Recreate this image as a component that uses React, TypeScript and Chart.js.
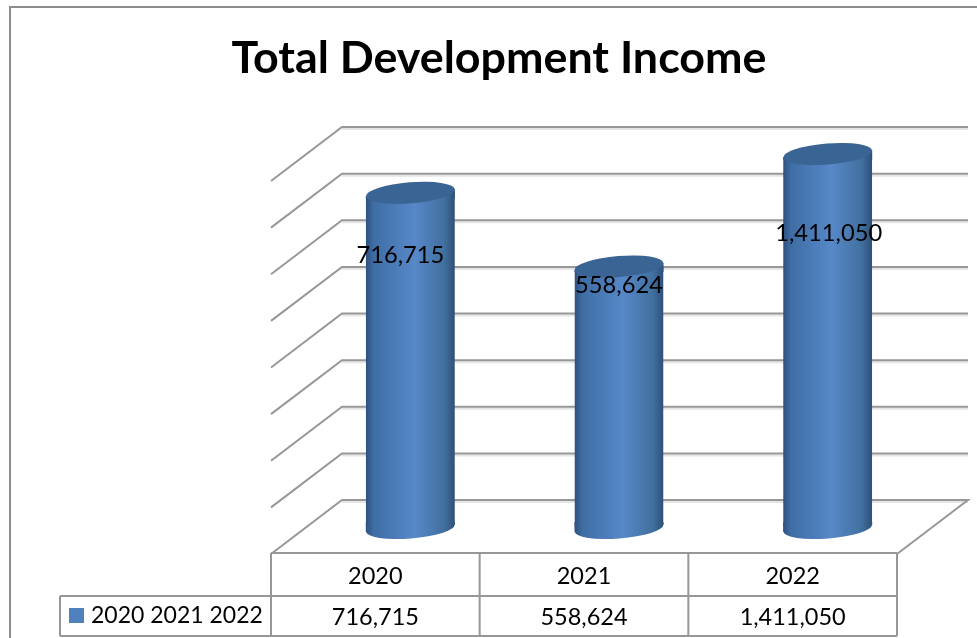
import React, { useEffect, useRef } from "react";
import { Chart, registerables } from "chart.js";

Chart.register(...registerables);

const TITLE = "Total Development Income";
const SERIES_NAME = "2020 2021 2022";
const categories = ["2020", "2021", "2022"];
const incomeValues = [716715, 558624, 1411050];
const AXIS_MIN = 0;
const AXIS_MAX = 800000;
const AXIS_STEP = 100000;

// Manual data-label placement in the reference (px from the drawn bar top / bar centre)
const labelDy = [62, 18, 78];
const labelDx = [-10, 0, 1];

const W = 977;
const H = 638;
const DEPTH_X = 36;
const DEPTH_Y = 27;
const BAR_PCT = 0.4267;
const ELL_RY = 10.5;
const TILT = -0.08;
const GRID = "#979797";
const FONT = "Lato, 'Noto Sans', sans-serif";

const fmt = (v: number) => v.toLocaleString("en-US");

function bodyGradient(ctx: CanvasRenderingContext2D, cx: number, half: number) {
  const g = ctx.createLinearGradient(cx - half, 0, cx + half, 0);
  g.addColorStop(0, "#2d507d");
  g.addColorStop(0.09, "#3f6ea5");
  g.addColorStop(0.55, "#5788c8");
  g.addColorStop(0.88, "#41709f");
  g.addColorStop(1, "#2f4f78");
  return g;
}

function barHalf(chart: any) {
  const x = chart.scales.x;
  return ((x.right - x.left) / categories.length) * BAR_PCT * 0.5;
}

function topPixel(chart: any, v: number) {
  return chart.scales.y.getPixelForValue(Math.min(v, AXIS_MAX));
}

const cylinderPlugin = {
  id: "cylinder3d",
  beforeDatasetsDraw(chart: any) {
    const { ctx, scales } = chart;
    const half = barHalf(chart);
    const lift = Math.sin(-TILT) * half;
    incomeValues.forEach((_, i) => {
      const cx = scales.x.getPixelForValue(i);
      const c = scales.y.getPixelForValue(0) + 1;
      ctx.save();
      ctx.fillStyle = bodyGradient(ctx, cx, half);
      ctx.beginPath();
      ctx.ellipse(cx, c, half, ELL_RY, TILT, 0, Math.PI * 2);
      ctx.fill();
      ctx.beginPath();
      ctx.moveTo(cx - half, c - 6);
      ctx.lineTo(cx + half, c - 6);
      ctx.lineTo(cx + half, c - lift);
      ctx.lineTo(cx - half, c + lift);
      ctx.closePath();
      ctx.fill();
      ctx.restore();
    });
  },
  beforeDatasetDraw(chart: any) {
    const { ctx, scales } = chart;
    const half = barHalf(chart);
    const lift = Math.sin(-TILT) * half;
    ctx.save();
    ctx.beginPath();
    incomeValues.forEach((v, i) => {
      const cx = scales.x.getPixelForValue(i);
      const t = topPixel(chart, v);
      const b = scales.y.getPixelForValue(0) + 1;
      ctx.moveTo(cx - half, t + lift);
      ctx.lineTo(cx + half, t - lift);
      ctx.lineTo(cx + half, b - lift);
      ctx.lineTo(cx - half, b + lift);
      ctx.closePath();
    });
    ctx.clip();
  },
  afterDatasetDraw(chart: any) {
    chart.ctx.restore();
  },
  afterDatasetsDraw(chart: any) {
    const { ctx, scales } = chart;
    const half = barHalf(chart);
    const lift = Math.sin(-TILT) * half;
    incomeValues.forEach((v, i) => {
      const cx = scales.x.getPixelForValue(i);
      const t = topPixel(chart, v);
      ctx.save();
      ctx.fillStyle = bodyGradient(ctx, cx, half);
      ctx.beginPath();
      ctx.moveTo(cx - half, t + lift);
      ctx.lineTo(cx + half, t - lift);
      ctx.lineTo(cx + half, t + lift + 2);
      ctx.lineTo(cx - half, t + lift + 2);
      ctx.closePath();
      ctx.fill();
      ctx.fillStyle = "#3a6493";
      ctx.beginPath();
      ctx.ellipse(cx, t, half, ELL_RY, TILT, 0, Math.PI * 2);
      ctx.fill();
      ctx.restore();
    });
    // data labels
    ctx.save();
    ctx.fillStyle = "#000";
    ctx.font = `23.7px ${FONT}`;
    ctx.textAlign = "center";
    ctx.textBaseline = "middle";
    incomeValues.forEach((v, i) => {
      const cx = scales.x.getPixelForValue(i);
      ctx.fillText(fmt(v), cx + labelDx[i], topPixel(chart, v) + labelDy[i] + 1);
    });
    ctx.restore();
  },
};

const framePlugin = {
  id: "frame3d",
  beforeDatasetsDraw(chart: any) {
    const { ctx, scales } = chart;
    const x = scales.x;
    const y = scales.y;
    const backL = x.left + DEPTH_X;
    const backR = x.right + DEPTH_X;
    const frontL = x.left - DEPTH_X + 1;
    const frontR = x.right - DEPTH_X + 1;
    ctx.save();
    // gridlines of the back wall and side wall, driven by the value axis ticks
    ctx.lineWidth = 2;
    y.ticks.forEach((t: any) => {
      const py = y.getPixelForValue(t.value) - DEPTH_Y;
      ctx.strokeStyle = "rgba(150,150,150,0.25)";
      ctx.beginPath();
      ctx.moveTo(backL, py + 2);
      ctx.lineTo(backR, py + 2);
      ctx.stroke();
      ctx.strokeStyle = GRID;
      ctx.beginPath();
      ctx.moveTo(frontL, py + DEPTH_Y * 2);
      ctx.lineTo(backL, py);
      ctx.lineTo(backR, py);
      if (t.value === AXIS_MIN) {
        ctx.lineTo(frontR, py + DEPTH_Y * 2);
      }
      ctx.stroke();
    });

    // outer chart border (open to the right and bottom)
    ctx.strokeStyle = "#8c8c8c";
    ctx.beginPath();
    ctx.moveTo(10, H);
    ctx.lineTo(10, 7);
    ctx.lineTo(W, 7);
    ctx.stroke();

    const tableTop = y.getPixelForValue(0) + DEPTH_Y - 1;
    const rowMid = tableTop + 43;
    const tableBottom = tableTop + 83;
    const legendLeft = 60;
    const catW = (x.right - x.left) / categories.length;

    ctx.strokeStyle = GRID;
    ctx.lineWidth = 2;
    ctx.beginPath();
    ctx.moveTo(frontL, tableTop);
    ctx.lineTo(frontR, tableTop);
    ctx.moveTo(legendLeft, rowMid);
    ctx.lineTo(frontR, rowMid);
    ctx.moveTo(legendLeft, tableBottom);
    ctx.lineTo(frontR, tableBottom);
    ctx.moveTo(legendLeft, rowMid);
    ctx.lineTo(legendLeft, tableBottom);
    for (let i = 0; i <= categories.length; i++) {
      const px = frontL + i * catW;
      ctx.moveTo(px, tableTop);
      ctx.lineTo(px, tableBottom);
    }
    ctx.stroke();

    ctx.fillStyle = "#000";
    ctx.textAlign = "center";
    ctx.textBaseline = "middle";
    ctx.font = `23.5px ${FONT}`;
    categories.forEach((c, i) => {
      const px = frontL + (i + 0.5) * catW;
      ctx.fillText(c, px, (tableTop + rowMid) / 2 + 2);
      ctx.fillText(fmt(incomeValues[i]), px, (rowMid + tableBottom) / 2 + 1);
    });

    // legend key
    ctx.fillStyle = "#4f81bd";
    ctx.fillRect(69, rowMid + 12, 15, 15);
    ctx.fillStyle = "#000";
    ctx.textAlign = "left";
    ctx.font = `23px ${FONT}`;
    ctx.fillText(SERIES_NAME, 91, (rowMid + tableBottom) / 2);

    // title
    ctx.font = `bold 44.8px ${FONT}`;
    ctx.textAlign = "center";
    ctx.fillText(TITLE, 499, 59);
    ctx.restore();
  },
};

export default function App() {
  const ref = useRef<HTMLCanvasElement | null>(null);
  useEffect(() => {
    document.body.style.margin = "0";
    const chart = new Chart(ref.current as HTMLCanvasElement, {
      type: "bar",
      data: {
        labels: categories,
        datasets: [
          {
            label: SERIES_NAME,
            data: incomeValues,
            barPercentage: BAR_PCT,
            categoryPercentage: 1,
            borderWidth: 0,
            backgroundColor: (c: any) => {
              const chartRef = c.chart;
              const sx = chartRef.scales.x;
              if (!sx || c.dataIndex === undefined) return "#4f81bd";
              const cx = sx.getPixelForValue(c.dataIndex);
              const half = barHalf(chartRef);
              if (!Number.isFinite(cx) || !Number.isFinite(half)) return "#4f81bd";
              return bodyGradient(chartRef.ctx, cx, half);
            },
          },
        ],
      },
      options: {
        responsive: false,
        animation: false,
        devicePixelRatio: 1,
        layout: { padding: { left: 306, right: 45, top: 154, bottom: 111 } },
        scales: {
          x: { display: false, grid: { display: false } },
          y: {
            display: false,
            min: AXIS_MIN,
            max: AXIS_MAX,
            ticks: { stepSize: AXIS_STEP },
            grid: { display: false },
          },
        },
        plugins: {
          legend: { display: false },
          title: { display: false },
          tooltip: { enabled: false },
        },
      },
      plugins: [framePlugin, cylinderPlugin],
    } as any);
    return () => chart.destroy();
  }, []);
  return <canvas ref={ref} width={W} height={H} style={{ display: "block", width: W, height: H }} />;
}
